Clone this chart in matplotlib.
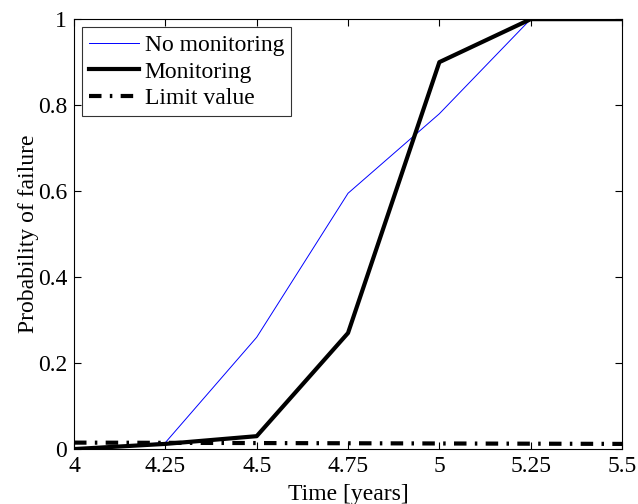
import numpy as np
import matplotlib.pyplot as plt

plt.rcParams['font.family'] = ['Liberation Serif', 'DejaVu Serif']
plt.rcParams['mathtext.fontset'] = 'stix'

# Datos
t = [4, 4.25, 4.5, 4.75, 5, 5.25, 5.5]
no_monitoring = [0, 0.015, 0.26, 0.595, 0.78, 1, 1]
monitoring = [0, 0.012, 0.03, 0.27, 0.9, 1, 1]
limit_value = [0.015, 0.0145, 0.014, 0.0135, 0.013, 0.0125, 0.012]

fig = plt.figure(figsize=(6.38, 5.04), dpi=100)
ax = fig.add_axes([0.116, 0.109, 0.859, 0.853])

ax.plot(t, no_monitoring, color='blue', lw=0.7, label='No monitoring')
ax.plot(t, monitoring, color='black', lw=3, label='Monitoring')
ax.plot(t, limit_value, color='black', lw=3, ls=(0, (3, 2, 0.6, 2)), label='Limit value')

ax.set_xlim(4, 5.5)
ax.set_ylim(0, 1)
ax.set_xticks(t)
ax.set_xticklabels(['4', '4.25', '4.5', '4.75', '5', '5.25', '5.5'])
ax.set_yticks([0, 0.2, 0.4, 0.6, 0.8, 1])
ax.set_yticklabels(['0', '0.2', '0.4', '0.6', '0.8', '1'])
ax.tick_params(direction='in', top=True, right=True, labelsize=17, length=5, pad=5)
ax.set_xlabel('Time [years]', fontsize=17, labelpad=5)
ax.set_ylabel('Probability of failure', fontsize=17, labelpad=-1)

leg = ax.legend(loc='upper left', fontsize=17, frameon=True, fancybox=False,
                edgecolor='black', handlelength=2.1, handletextpad=0.25,
                borderaxespad=0.34, labelspacing=0.22, borderpad=0.3)
leg.get_frame().set_linewidth(0.8)

fig.savefig('out.png', dpi=100)
